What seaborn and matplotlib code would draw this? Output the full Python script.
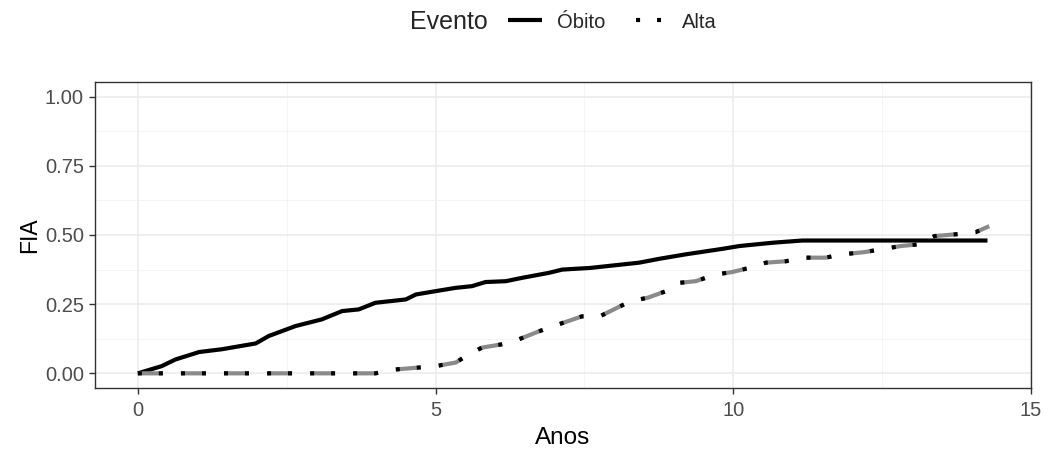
import matplotlib
matplotlib.use("Agg")
import matplotlib.pyplot as plt
from matplotlib.lines import Line2D
import seaborn as sns
import pandas as pd

# Cumulative incidence (FIA) by time in years, one curve per competing event
anos_obito = [0.0, 0.40, 0.63, 1.03, 1.41, 1.98, 2.20, 2.65, 3.09, 3.43, 3.71, 3.99,
              4.50, 4.67, 5.00, 5.34, 5.61, 5.84, 6.18, 6.45, 6.90, 7.13, 7.60,
              8.42, 8.76, 9.20, 9.82, 10.10, 10.66, 11.16, 14.27]
fia_obito = [0.0, 0.026, 0.05, 0.077, 0.087, 0.108, 0.135, 0.171, 0.195, 0.225, 0.231, 0.255,
             0.267, 0.285, 0.297, 0.309, 0.315, 0.330, 0.333, 0.345, 0.363, 0.375, 0.381,
             0.400, 0.414, 0.430, 0.450, 0.460, 0.472, 0.480, 0.480]

anos_alta = [0.0, 3.99, 4.33, 4.67, 5.00, 5.34, 5.56, 5.78, 6.12, 6.40, 6.68, 6.90, 7.19,
             7.46, 7.77, 8.05, 8.28, 8.56, 8.87, 9.09, 9.37, 9.70, 9.98, 10.27, 10.55,
             10.88, 11.22, 11.55, 11.83, 12.20, 12.48, 12.81, 13.10, 13.38, 13.71, 14.07, 14.30]
fia_alta = [0.0, 0.0, 0.014, 0.020, 0.026, 0.039, 0.069, 0.093, 0.105, 0.123, 0.147, 0.165, 0.186,
            0.206, 0.207, 0.237, 0.261, 0.273, 0.297, 0.327, 0.333, 0.357, 0.366, 0.381, 0.400,
            0.405, 0.418, 0.418, 0.430, 0.438, 0.448, 0.460, 0.466, 0.496, 0.502, 0.510, 0.532]

eventos = ["Óbito", "Alta"]
x_ticks = [0, 5, 10, 15]
y_ticks = [0.00, 0.25, 0.50, 0.75, 1.00]

df = pd.concat([
    pd.DataFrame({"Anos": anos_obito, "FIA": fia_obito, "Evento": eventos[0]}),
    pd.DataFrame({"Anos": anos_alta, "FIA": fia_alta, "Evento": eventos[1]}),
], ignore_index=True)

sns.set_theme(style="white")
plt.rcParams["font.family"] = ["Liberation Sans", "DejaVu Sans"]
plt.rcParams["lines.scale_dashes"] = False

fig = plt.figure(figsize=(10.44, 4.54), dpi=100)
ax = fig.add_axes([0.091, 0.1454, 0.8965, 0.674])

obito = df[df["Evento"] == eventos[0]]
alta = df[df["Evento"] == eventos[1]]

sns.lineplot(data=obito, x="Anos", y="FIA", color="black", lw=3,
             estimator=None, sort=False, ax=ax, legend=False,
             solid_capstyle="butt", zorder=3)
# gray dashes with dark tips
sns.lineplot(data=alta, x="Anos", y="FIA", color="#8a8a8a", lw=3,
             estimator=None, sort=False, ax=ax, legend=False, zorder=4)
sns.lineplot(data=alta, x="Anos", y="FIA", color="black", lw=3,
             estimator=None, sort=False, ax=ax, legend=False, zorder=5)
gray_line, black_line = ax.lines[1], ax.lines[2]
gray_line.set_linestyle((0, (18, 13)))
gray_line.set_dash_capstyle("butt")
black_line.set_linestyle((0, (2.9, 12.2, 2.9, 13.0)))
black_line.set_dash_capstyle("butt")

ax.set_xlim(-0.72, 15.0)
ax.set_ylim(-0.053, 1.053)
ax.set_xticks(x_ticks)
ax.set_yticks(y_ticks)
ax.set_xticklabels([str(t) for t in x_ticks])
ax.set_yticklabels([f"{t:.2f}" for t in y_ticks])
ax.set_xticks([2.5, 7.5, 12.5], minor=True)
ax.set_yticks([0.125, 0.375, 0.625, 0.875], minor=True)

ax.grid(True, which="major", color="#EBEBEB", lw=1.1, zorder=0)
ax.grid(True, which="minor", color="#F2F2F2", lw=0.6, zorder=0)
ax.set_axisbelow(True)
for s in ax.spines.values():
    s.set_color("#333333")
    s.set_linewidth(1.0)
    s.set_visible(True)

ax.tick_params(which="major", direction="out", length=4.5, width=1, color="#333333",
               labelsize=14.5, labelcolor="#4D4D4D", bottom=True, left=True, pad=3.5)
ax.tick_params(axis="x", which="major", pad=5)
ax.tick_params(which="minor", length=0)

ax.set_xlabel("Anos", fontsize=17.5, color="black", labelpad=5)
ax.set_ylabel("FIA", fontsize=16.5, color="black", labelpad=3)

# legend across the top
fig.text(410 / 1044, 1 - 22 / 454, "Evento", fontsize=18, ha="left", va="center")
h_obito = Line2D([], [], color="black", lw=3, solid_capstyle="butt")
h_alta = Line2D([], [], color="black", lw=3, dash_capstyle="butt",
                linestyle=(12.9, (2.9, 12.2)))
fig.legend([h_obito, h_alta], eventos, loc="center left",
           bbox_to_anchor=(500 / 1044, 1 - 22 / 454), ncol=2, frameon=False,
           fontsize=14.5, handlelength=1.7, handletextpad=0.75, columnspacing=1.35,
           borderaxespad=0)

fig.savefig("out.png", dpi=100, facecolor="white")
